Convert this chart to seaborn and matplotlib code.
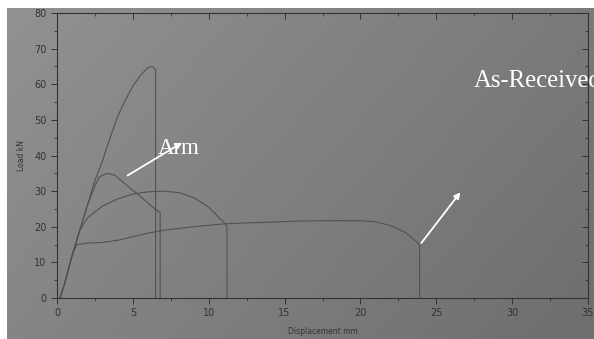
import numpy as np
import pandas as pd
import seaborn as sns
import matplotlib
matplotlib.use('Agg')
from matplotlib import pyplot as plt

# curve (displacement mm, load kN)
peak65_x = [0.2, 0.5, 1.0, 1.5, 2.0, 2.5, 3.0, 3.5, 4.0, 4.5, 5.0, 5.5, 6.0, 6.3, 6.5, 6.5]
peak65_y = [0, 4, 12, 19, 26, 33, 38.5, 45, 51, 55.5, 59.5, 62.5, 64.7, 65, 64, 0]

peak35_x = [0.2, 0.5, 1.0, 1.5, 2.0, 2.5, 2.8, 3.3, 3.8, 4.5, 5.5, 6.3, 6.8, 6.8]
peak35_y = [0, 4, 12, 19, 26, 31.5, 34, 35, 34.5, 32, 28.5, 25.5, 24, 0]

peak30_x = [0.2, 0.5, 1.0, 1.5, 2.0, 3.0, 4.0, 5.0, 6.0, 7.0, 8.0, 9.0, 10.0, 10.7, 11.1, 11.2, 11.2]
peak30_y = [0, 4, 12, 19, 22.5, 25.8, 27.8, 29.2, 29.8, 30, 29.6, 28.2, 25.5, 22.5, 20.8, 20, 0]

asrec_x = [0.2, 0.5, 1.0, 1.3, 2.0, 3.0, 4.0, 5.0, 6.0, 7.0, 8.0, 9.0, 10.0, 11.0, 12.0,
           14.0, 16.0, 18.0, 20.0, 21.0, 22.0, 23.0, 23.7, 23.9, 23.9]
asrec_y = [0, 4, 12, 15, 15.4, 15.6, 16.2, 17.2, 18.2, 19, 19.5, 20, 20.4, 20.8, 21,
           21.3, 21.6, 21.7, 21.7, 21.4, 20.3, 18.3, 15.8, 15, 0]

x_ticks = [0, 5, 10, 15, 20, 25, 30, 35]
y_ticks = [0, 10, 20, 30, 40, 50, 60, 70, 80]

frames = []
for name, xs, ys in [('A', peak65_x, peak65_y), ('B', peak35_x, peak35_y),
                     ('C', peak30_x, peak30_y), ('D', asrec_x, asrec_y)]:
    frames.append(pd.DataFrame({'curve': name, 'disp': xs, 'load': ys}))
df = pd.concat(frames, ignore_index=True)

sns.set_theme(style='ticks')
plt.rcParams['font.family'] = ['DejaVu Sans']

ink = '#333333'
W, H = 594, 339

fig = plt.figure(figsize=(W / 100, H / 100), dpi=100, facecolor='white')

# photo-like paper background: lighter top left, darker bottom right, white scan border
gx = np.linspace(0, 1, W)[None, :]
gy = np.linspace(0, 1, H)[:, None]
shade = (146 - 24 * gx - 12 * gy) / 255.0
paper = np.dstack([shade, shade, shade * 1.01 + 0.004]).clip(0, 1)
paper[:8, :, :] = 1.0
paper[:, :7, :] = 1.0
fig.figimage(paper, xo=0, yo=0, origin='upper', zorder=-10)

ax = fig.add_axes([57 / W, 1 - 298 / H, (588 - 57) / W, (298 - 13) / H])
ax.set_facecolor('none')

sns.lineplot(data=df, x='disp', y='load', units='curve', estimator=None, sort=False,
             color='#525252', linewidth=0.8, ax=ax)

ax.set_xlim(0, 35)
ax.set_ylim(0, 80)
ax.set_xticks(x_ticks)
ax.set_yticks(y_ticks)
ax.set_xticks(np.arange(0, 35.1, 2.5), minor=True)
ax.set_yticks(np.arange(0, 80.1, 5), minor=True)
ax.tick_params(axis='both', which='major', labelsize=7, colors=ink, length=4, width=0.7)
ax.tick_params(axis='both', which='minor', colors=ink, length=2, width=0.6)
ax.tick_params(axis='x', which='both', top=True, direction='out')
ax.tick_params(axis='y', which='both', right=True, direction='out')
for sp in ax.spines.values():
    sp.set_color(ink)
    sp.set_linewidth(0.8)
# top and right ticks point inward, as on the original instrument print
for t in ax.xaxis.get_ticklines(minor=False)[1::2] + ax.xaxis.get_ticklines(minor=True)[1::2]:
    t.set_marker(3)
for t in ax.yaxis.get_ticklines(minor=False)[1::2] + ax.yaxis.get_ticklines(minor=True)[1::2]:
    t.set_marker(0)

ax.set_xlabel('Displacement mm', fontsize=5.5, color=ink, labelpad=6)
ax.set_ylabel('Load kN', fontsize=5.5, color=ink, labelpad=6)

serif = ['Liberation Serif', 'DejaVu Serif']
ax.annotate('', xy=(8.4, 44), xytext=(4.5, 34),
            arrowprops=dict(arrowstyle='-|>', color='white', lw=1.3, mutation_scale=9))
ax.text(8.0, 42, 'Arm', color='white', fontsize=16.5, family=serif, ha='center', va='center')
ax.annotate('', xy=(26.7, 30.3), xytext=(23.9, 14.8),
            arrowprops=dict(arrowstyle='-|>', color='white', lw=1.3, mutation_scale=9))
ax.text(27.45, 61, 'As-Received', color='white', fontsize=17.8, family=serif,
        ha='left', va='center', clip_on=False)

fig.savefig('out.png', dpi=100, facecolor=fig.get_facecolor())
